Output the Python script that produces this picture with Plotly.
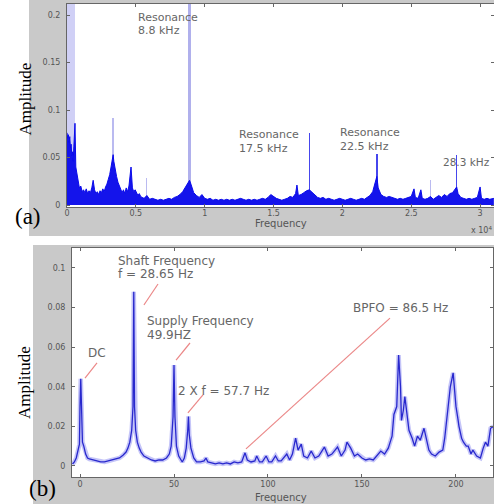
import plotly.graph_objects as go

# ---------------- data: panel (a) spectrum (frequency in x10^4 Hz) ----------------
freq_a = [0.000, 0.005, 0.010, 0.015, 0.020, 0.025, 0.030, 0.035, 0.040, 0.045, 0.050, 0.058,
          0.064, 0.070, 0.076, 0.082, 0.090, 0.100, 0.110, 0.120, 0.130, 0.140, 0.150, 0.160,
          0.170, 0.180, 0.190, 0.200, 0.210, 0.220, 0.230, 0.240, 0.250, 0.260, 0.270, 0.280,
          0.290, 0.300, 0.310, 0.320, 0.330, 0.335, 0.340, 0.350, 0.360, 0.370, 0.380, 0.390,
          0.400, 0.410, 0.420, 0.430, 0.440, 0.450, 0.465, 0.475, 0.485, 0.495, 0.505, 0.515,
          0.525, 0.535, 0.545, 0.560, 0.580, 0.600, 0.620, 0.640, 0.660, 0.680, 0.700, 0.720,
          0.740, 0.760, 0.780, 0.800, 0.820, 0.840, 0.860, 0.880, 0.890, 0.900, 0.910, 0.920,
          0.940, 0.960, 0.980, 1.000, 1.020, 1.040, 1.060, 1.080, 1.100, 1.120, 1.140, 1.160,
          1.180, 1.200, 1.220, 1.240, 1.260, 1.280, 1.300, 1.320, 1.340, 1.360, 1.380, 1.400,
          1.420, 1.440, 1.460, 1.480, 1.500, 1.520, 1.540, 1.560, 1.580, 1.600, 1.620, 1.640,
          1.660, 1.670, 1.680, 1.700, 1.720, 1.740, 1.760, 1.780, 1.800, 1.820, 1.840, 1.860,
          1.880, 1.900, 1.920, 1.940, 1.960, 1.980, 2.000, 2.020, 2.040, 2.060, 2.080, 2.100,
          2.120, 2.140, 2.160, 2.180, 2.200, 2.220, 2.240, 2.250, 2.260, 2.280, 2.300, 2.320,
          2.340, 2.360, 2.380, 2.400, 2.420, 2.440, 2.460, 2.480, 2.500, 2.520, 2.530, 2.550,
          2.570, 2.580, 2.600, 2.620, 2.640, 2.660, 2.680, 2.700, 2.720, 2.740, 2.760, 2.780,
          2.800, 2.820, 2.830, 2.840, 2.860, 2.880, 2.900, 2.920, 2.940, 2.960, 2.980, 3.000,
          3.010, 3.030, 3.050, 3.070, 3.100]
amp_a = [0.076, 0.070, 0.074, 0.066, 0.072, 0.060, 0.064, 0.052, 0.056, 0.046, 0.062, 0.086,
         0.040, 0.034, 0.028, 0.024, 0.018, 0.020, 0.014, 0.016, 0.013, 0.017, 0.012, 0.015,
         0.013, 0.018, 0.026, 0.016, 0.012, 0.014, 0.011, 0.015, 0.013, 0.017, 0.014, 0.019,
         0.022, 0.027, 0.032, 0.040, 0.050, 0.053, 0.046, 0.036, 0.030, 0.024, 0.020, 0.016,
         0.013, 0.016, 0.012, 0.018, 0.014, 0.020, 0.040, 0.018, 0.014, 0.016, 0.012, 0.010,
         0.012, 0.009, 0.008, 0.007, 0.010, 0.006, 0.007, 0.006, 0.005, 0.006, 0.005, 0.006,
         0.007, 0.006, 0.008, 0.009, 0.011, 0.014, 0.019, 0.024, 0.026, 0.022, 0.017, 0.013,
         0.010, 0.008, 0.011, 0.007, 0.006, 0.007, 0.005, 0.006, 0.005, 0.006, 0.005, 0.006,
         0.005, 0.006, 0.005, 0.006, 0.007, 0.006, 0.005, 0.006, 0.005, 0.006, 0.005, 0.006,
         0.007, 0.006, 0.008, 0.011, 0.009, 0.007, 0.006, 0.005, 0.006, 0.007, 0.009, 0.008,
         0.012, 0.021, 0.010, 0.011, 0.013, 0.015, 0.016, 0.013, 0.010, 0.008, 0.007, 0.008,
         0.006, 0.007, 0.006, 0.005, 0.006, 0.007, 0.006, 0.005, 0.006, 0.007, 0.006, 0.005,
         0.006, 0.007, 0.006, 0.008, 0.010, 0.014, 0.026, 0.030, 0.018, 0.011, 0.009, 0.008,
         0.009, 0.008, 0.007, 0.006, 0.007, 0.006, 0.007, 0.008, 0.009, 0.017, 0.008, 0.007,
         0.016, 0.007, 0.006, 0.007, 0.009, 0.006, 0.008, 0.010, 0.008, 0.011, 0.009, 0.012,
         0.013, 0.017, 0.019, 0.012, 0.008, 0.007, 0.006, 0.007, 0.006, 0.007, 0.008, 0.019,
         0.007, 0.006, 0.007, 0.006, 0.007]

# tall narrow spectral lines of panel (a)
peak_freq_a = [0.03, 0.335, 0.58, 0.89, 1.76, 2.25, 2.64, 2.83]
peak_amp_a = [0.22, 0.092, 0.028, 0.22, 0.076, 0.054, 0.026, 0.053]

# ---------------- data: panel (b) spectrum (Hz) ----------------
freq_b = [-4.0, -3.0, -2.0, -1.0, -0.3, 0.0, 0.4, 0.8, 1.3, 2.0, 3.0, 4.0, 5.0, 7, 9, 11, 13, 15,
          17, 19, 21, 23, 24.5, 25.5, 26.5, 27.5, 28.2, 28.6, 29.0, 29.6, 30.5, 31.5, 32.5, 34,
          36, 38, 40, 42, 44, 46, 47.5, 48.5, 49.5, 50.0, 50.5, 51.3, 52.5, 54.4, 55.5, 56.5,
          57.3, 57.7, 58.1, 59, 60.5, 62, 64, 66, 67, 68, 70, 72, 74, 76, 78, 80, 82, 84, 86,
          87.8, 89, 91, 93, 94, 95.5, 97, 99, 100.5, 102, 104, 105.5, 107, 110, 111.5, 113,
          114.7, 116, 117.7, 119, 121, 123, 125, 127, 130, 132, 134, 137, 139, 141, 142, 144,
          146, 147.7, 150, 152, 154, 156, 158, 160, 162, 164, 165, 166, 167, 168.5, 169.5,
          170.5, 171, 172, 172.8, 174, 175, 176.7, 178, 179.5, 181, 183, 184.5, 185.6, 187,
          189, 191, 193, 194, 195, 196, 197, 198.5, 199.3, 200, 201, 201.6, 203, 204, 205.5,
          206.5, 208, 209, 211, 213, 214.5, 215.7, 217, 218.4, 220]
amp_b = [0.0010, 0.0020, 0.0040, 0.0080, 0.0110, 0.0300, 0.0440, 0.0300, 0.0120, 0.0100,
         0.0060, 0.0040, 0.0035, 0.0030, 0.0025, 0.0020, 0.0020, 0.0025, 0.0030, 0.0035,
         0.0040, 0.0055, 0.0070, 0.0090, 0.0120, 0.0180, 0.0300, 0.0880, 0.0300, 0.0180,
         0.0120, 0.0090, 0.0070, 0.0050, 0.0040, 0.0030, 0.0025, 0.0030, 0.0030, 0.0040,
         0.0060, 0.0100, 0.0250, 0.0510, 0.0250, 0.0100, 0.0050, 0.0020, 0.0040, 0.0090,
         0.0180, 0.0250, 0.0160, 0.0090, 0.0040, 0.0020, 0.0020, 0.0025, 0.0040, 0.0020,
         0.0015, 0.0010, 0.0015, 0.0010, 0.0015, 0.0010, 0.0020, 0.0015, 0.0020, 0.0066,
         0.0030, 0.0020, 0.0025, 0.0050, 0.0020, 0.0020, 0.0050, 0.0020, 0.0020, 0.0050,
         0.0025, 0.0025, 0.0060, 0.0030, 0.0060, 0.0140, 0.0080, 0.0110, 0.0050, 0.0040,
         0.0075, 0.0040, 0.0050, 0.0095, 0.0050, 0.0060, 0.0095, 0.0050, 0.0080, 0.0120,
         0.0090, 0.0050, 0.0060, 0.0040, 0.0030, 0.0035, 0.0030, 0.0050, 0.0075, 0.0060,
         0.0090, 0.0120, 0.0150, 0.0260, 0.0300, 0.0560, 0.0400, 0.0230, 0.0280, 0.0350,
         0.0240, 0.0180, 0.0140, 0.0100, 0.0150, 0.0130, 0.0190, 0.0120, 0.0080, 0.0060,
         0.0050, 0.0070, 0.0080, 0.0140, 0.0230, 0.0300, 0.0400, 0.0470, 0.0360, 0.0300,
         0.0240, 0.0200, 0.0140, 0.0120, 0.0100, 0.0100, 0.0060, 0.0080, 0.0050, 0.0040,
         0.0090, 0.0120, 0.0100, 0.0190, 0.0200]

W, H = 494, 504

def px(x):
    return x / W

def py(y):
    return 1 - y / H

fig = go.Figure()

# panel (a)
peak_colors = ["rgba(150,150,235,0.45)", "rgba(140,140,230,0.6)", "rgba(140,140,230,0.6)",
               "rgba(150,150,230,0.75)", "rgba(50,50,235,0.9)", "rgba(50,50,235,0.9)",
               "rgba(140,140,230,0.6)", "rgba(50,50,235,0.9)"]
peak_widths = [0.058, 0.014, 0.008, 0.022, 0.011, 0.011, 0.008, 0.011]
fig.add_trace(go.Bar(x=peak_freq_a, y=peak_amp_a, width=peak_widths,
                     marker=dict(color=peak_colors, line=dict(width=0)),
                     xaxis="x", yaxis="y", showlegend=False))
fig.add_trace(go.Scatter(x=freq_a, y=amp_a, mode="lines", fill="tozeroy",
                         line=dict(color="rgb(10,10,235)", width=1),
                         fillcolor="rgb(20,20,235)", xaxis="x", yaxis="y", showlegend=False))

# panel (b)
fig.add_trace(go.Scatter(x=freq_b, y=amp_b, mode="lines",
                         line=dict(color="rgba(90,90,235,0.35)", width=4.5),
                         xaxis="x2", yaxis="y2", showlegend=False))
fig.add_trace(go.Scatter(x=freq_b, y=amp_b, mode="lines",
                         line=dict(color="rgb(40,40,205)", width=1.3),
                         xaxis="x2", yaxis="y2", showlegend=False))

tickfont = dict(family="DejaVu Sans", size=8, color="#555")
axis_common = dict(showgrid=False, zeroline=False, showline=True, mirror="ticks",
                   linecolor="#666", linewidth=1, ticks="inside", ticklen=3,
                   tickcolor="#666", tickfont=tickfont, automargin=False)

fig.update_layout(
    width=W, height=H,
    margin=dict(l=0, r=0, t=0, b=0, autoexpand=False),
    paper_bgcolor="white", plot_bgcolor="white",
    bargap=0,
    xaxis=dict(domain=[px(67), 1.0], range=[0, 3.101], anchor="y",
               tickvals=[0, 0.5, 1, 1.5, 2, 2.5, 3], ticklabelstandoff=-2,
               ticktext=["0", "0.5", "1", "1.5", "2", "2.5", "3"], **axis_common),
    yaxis=dict(domain=[py(207), py(4)], range=[-0.0021, 0.2116], anchor="x",
               tickvals=[0, 0.05, 0.1, 0.15, 0.2],
               ticktext=["0", "0.05", "0.1", "0.15", "0.2"], ticklabelstandoff=4,
               **axis_common),
    xaxis2=dict(domain=[px(72), px(493)], range=[-4.26, 219.7], anchor="y2",
                tickvals=[0, 50, 100, 150, 200], ticklabelstandoff=-1,
                ticktext=["0", "50", "100", "150", "200"], **axis_common),
    yaxis2=dict(domain=[py(477), py(248)], range=[-0.0056, 0.1101], anchor="x2",
                tickvals=[0, 0.02, 0.04, 0.06, 0.08, 0.1],
                ticktext=["0", "0.02", "0.04", "0.06", "0.08", "0.1"], ticklabelstandoff=4,
                **axis_common),
)

grey = "#c9c9c9"
shapes = [
    dict(type="rect", xref="paper", yref="paper", x0=px(29), x1=1, y0=py(236), y1=1,
         fillcolor=grey, line=dict(width=0), layer="below"),
    dict(type="rect", xref="paper", yref="paper", x0=px(33), x1=1, y0=0, y1=py(245),
         fillcolor=grey, line=dict(width=0), layer="below"),
    dict(type="rect", xref="x domain", yref="y domain", x0=0, x1=1, y0=0, y1=1,
         fillcolor="white", line=dict(width=0), layer="below"),
    dict(type="rect", xref="x2 domain", yref="y2 domain", x0=0, x1=1, y0=0, y1=1,
         fillcolor="white", line=dict(width=0), layer="below"),
]
red = "rgb(235,135,135)"
for (x0, y0, x1, y1) in [(2.66, 0.0444, 9.04, 0.052), (34.0, 0.0813, 41.5, 0.0919),
                         (51.1, 0.0535, 58.5, 0.0621), (57.4, 0.0268, 65.4, 0.0359),
                         (88.3, 0.0086, 164.9, 0.0747)]:
    shapes.append(dict(type="line", xref="x2", yref="y2", x0=x0, y0=y0, x1=x1, y1=y1,
                       line=dict(color=red, width=1.2)))
fig.update_layout(shapes=shapes)

annots = []
font_a = dict(family="DejaVu Sans", size=11, color="#666")
font_a2 = dict(family="DejaVu Sans", size=10.5, color="#666")
font_b = dict(family="DejaVu Sans", size=12, color="#666")
for (txt, x, y, f) in [("Resonance", 137, 18, font_a), ("8.8 kHz", 137, 30, font_a),
                       ("Resonance", 238, 135, font_a), ("17.5 kHz", 238, 148, font_a),
                       ("Resonance", 339, 133, font_a), ("22.5 kHz", 339, 146, font_a),
                       ("28.3 kHz", 442, 162, font_a2)]:
    annots.append(dict(text=txt, x=px(x), y=py(y), xref="paper", yref="paper",
                       xanchor="left", yanchor="middle", showarrow=False, font=f,
                       borderpad=0))
for (txt, x, y) in [("Shaft Frequency", 117, 261), ("f = 28.65 Hz", 117, 274),
                    ("Supply Frequency", 146, 321), ("49.9HZ", 146, 335),
                    ("DC", 87, 353), ("2 X f = 57.7 Hz", 177, 391),
                    ("BPFO = 86.5 Hz", 352, 308)]:
    annots.append(dict(text=txt, x=px(x), y=py(y), xref="paper", yref="paper",
                       xanchor="left", yanchor="middle", showarrow=False, font=font_b,
                       borderpad=0))

serif = "Liberation Serif"
def lab(text, x, y, font, angle=0):
    return dict(text=text, x=px(x), y=py(y), xref="paper", yref="paper", xanchor="center",
                yanchor="middle", textangle=angle, showarrow=False, font=font)

annots += [
    lab("Frequency", 281, 223, dict(family="DejaVu Sans", size=10, color="#555")),
    lab("Frequency", 281, 497, dict(family="DejaVu Sans", size=10, color="#555")),
    lab("x 10<sup>4</sup>", 481, 230, dict(family="DejaVu Sans", size=8, color="#555")),
    lab("Amplitude", 25.5, 99, dict(family=serif, size=17, color="black"), -90),
    lab("Amplitude", 24, 383, dict(family=serif, size=17, color="black"), -90),
    lab("(a)", 28, 216, dict(family=serif, size=23, color="black")),
    lab("(b)", 42, 488, dict(family=serif, size=23, color="black")),
]
fig.update_layout(annotations=annots)

fig.write_html("out.html",
               config={"displayModeBar": False, "staticPlot": True},
               post_script="document.body.style.margin='0px';document.body.style.overflow='hidden';")
